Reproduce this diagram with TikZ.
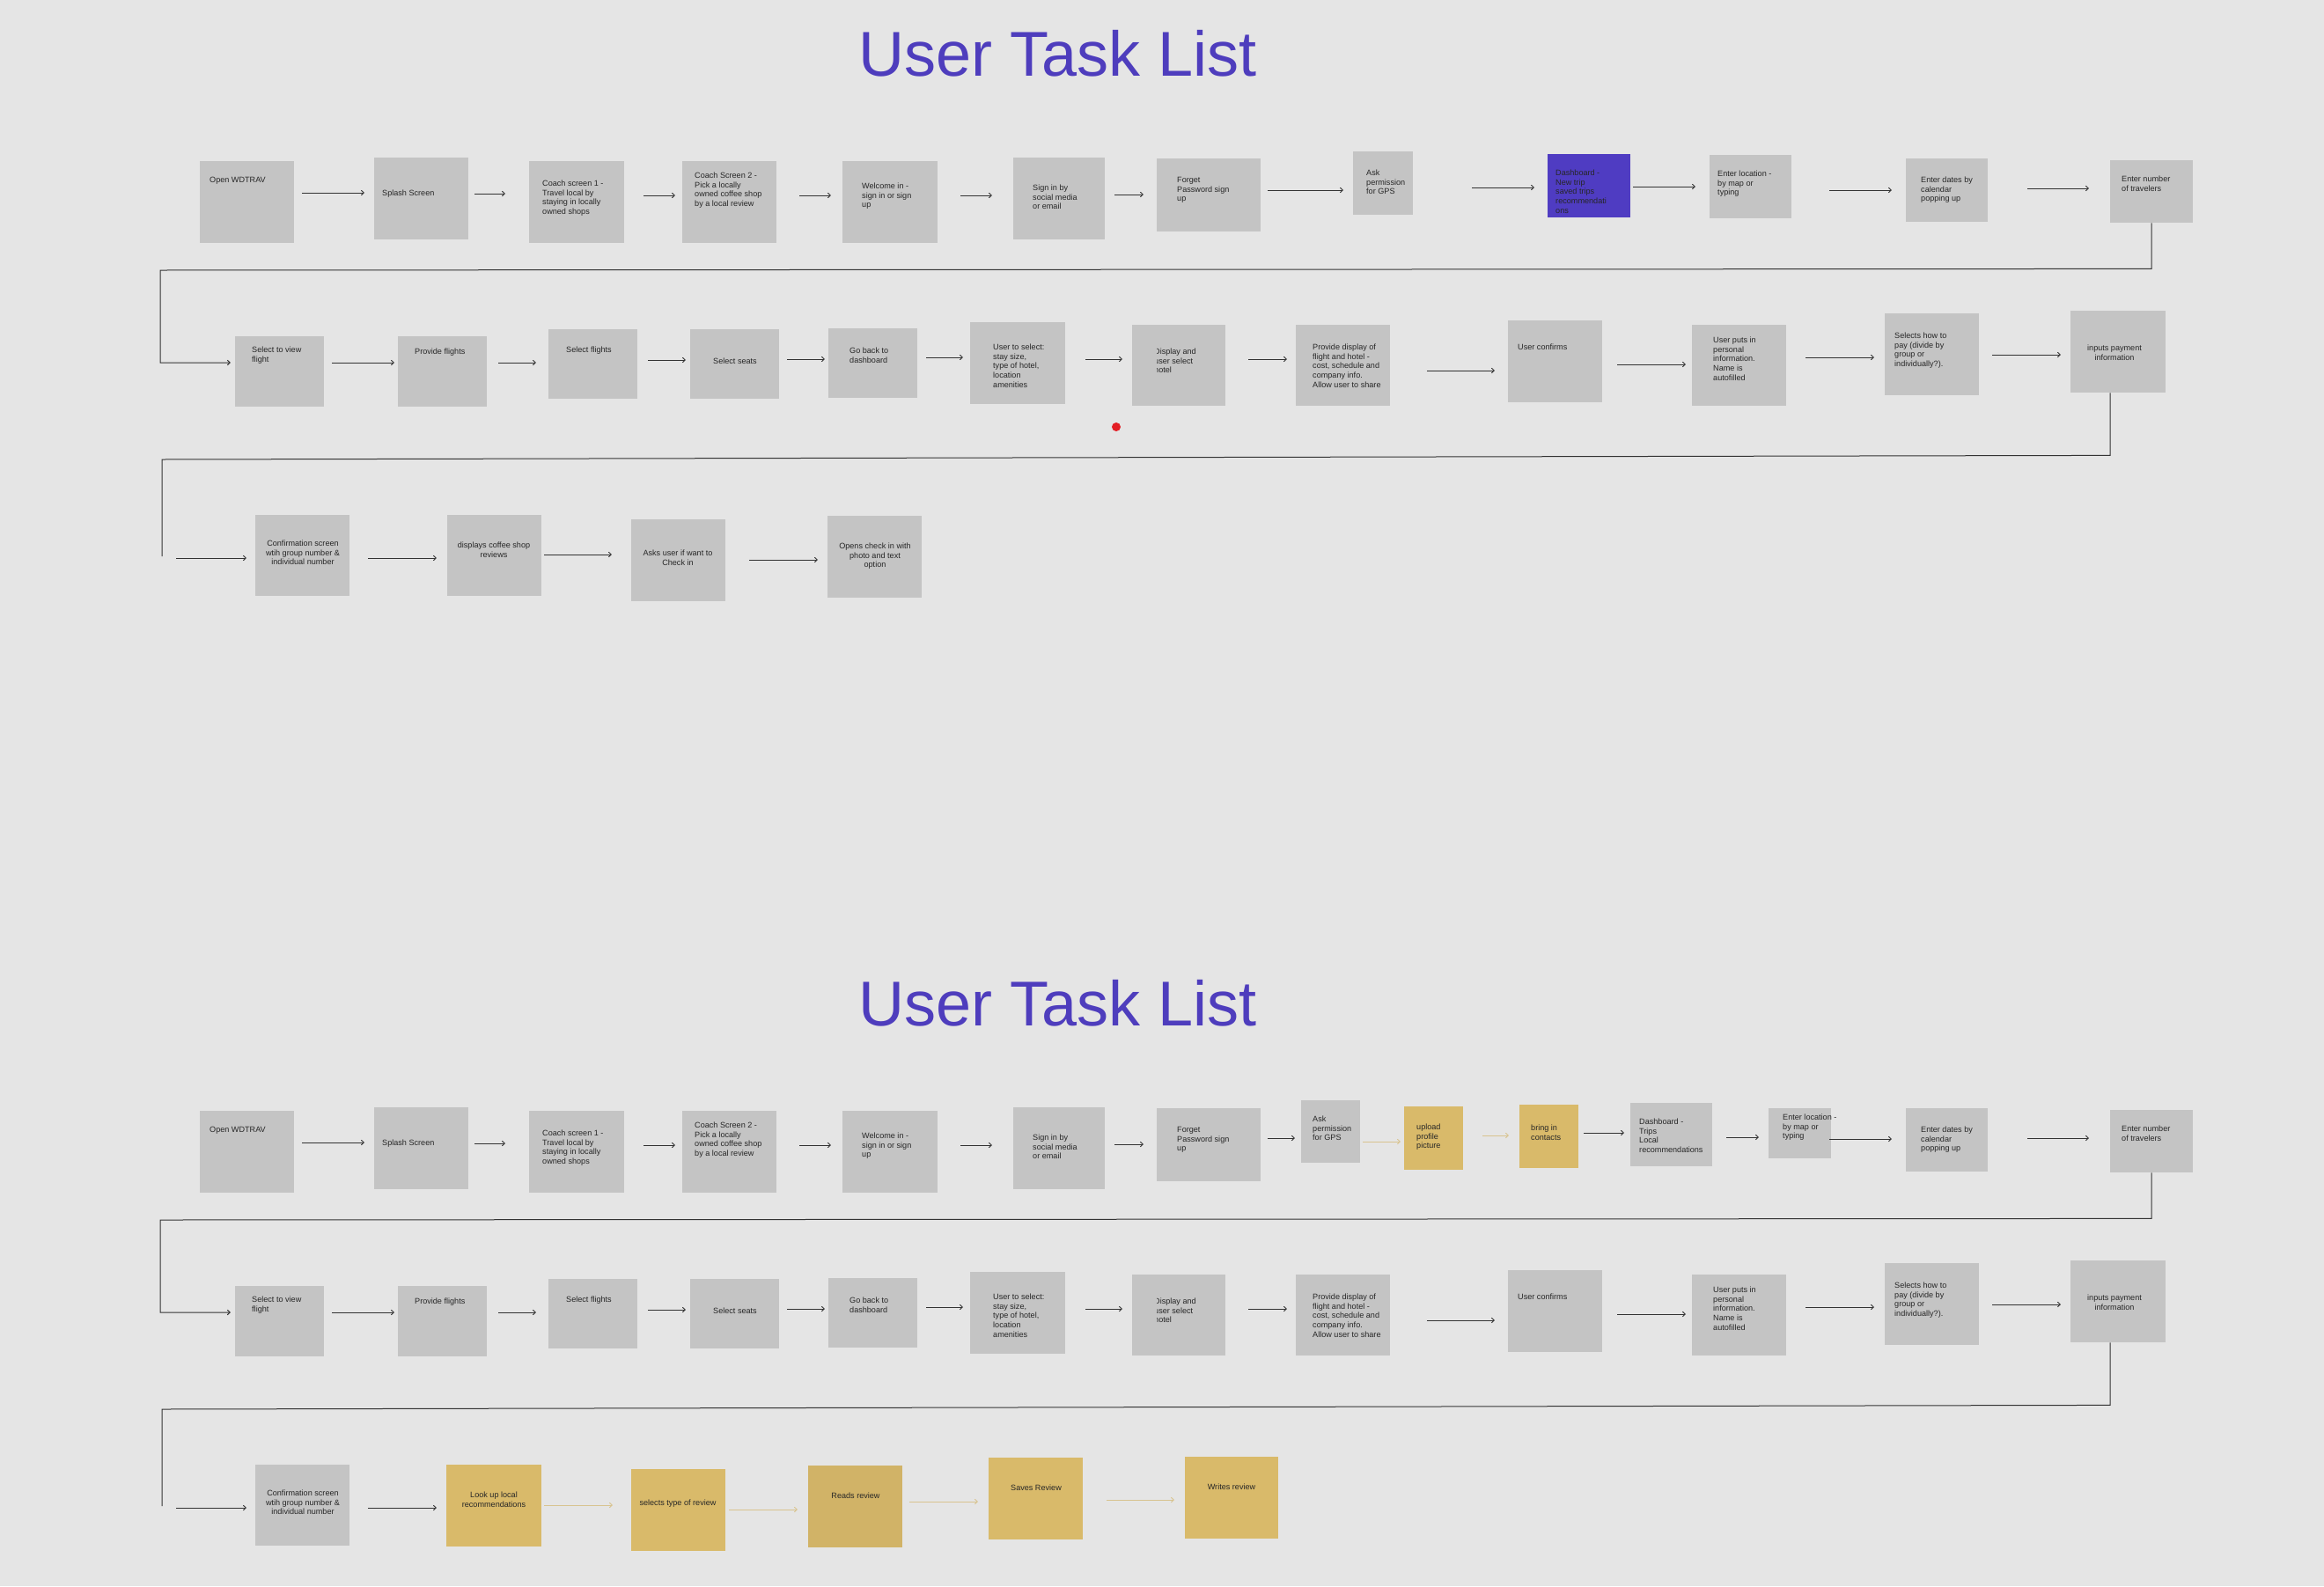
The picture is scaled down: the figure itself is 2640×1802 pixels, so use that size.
\documentclass[tikz,border=0pt]{standalone}
\usepackage{fontspec}
\setmainfont{Liberation Sans}
\usetikzlibrary{arrows.meta,calc}
\definecolor{bgc}{HTML}{E5E5E5}
\definecolor{boxc}{HTML}{C4C4C4}
\definecolor{purp}{HTML}{4F3CC2}
\definecolor{titlec}{HTML}{4E3DBD}
\definecolor{yel}{HTML}{D9BA6A}
\definecolor{yeld}{HTML}{D1B367}
\definecolor{yelarrow}{HTML}{D8C38F}
\definecolor{linec}{HTML}{333333}
\definecolor{dotc}{HTML}{E31E24}
\tikzset{
 box/.style={fill=boxc, draw=none, inner sep=0pt, anchor=north west},
 ybox/.style={box, fill=yel},
 ydbox/.style={box, fill=yeld},
 pbox/.style={box, fill=purp},
 txt/.style={inner sep=0pt, align=left, anchor=north west, font=\fontsize{9.1}{10.8}\selectfont, text=black!85},
 ctxt/.style={txt, align=center, anchor=north},
 arr/.style={draw=linec, line width=0.9pt, -{Straight Barb[length=3pt,width=5.5pt]}},
 yarr/.style={arr, draw=yelarrow},
 conn/.style={draw=linec, line width=1pt},
 ttl/.style={text=titlec, font=\fontsize{72}{80}\selectfont, inner sep=0pt, anchor=base},
}
\newcommand\bx[6]{\node[#1, minimum width={#5-#3}, minimum height={#6-#4}] (#2) at (#3,#4) {};}
\newcommand\tlab[4]{\node[txt] (#1) at (#2,#3-4.4) {\strut #4};}
\newcommand\clab[4]{\node[ctxt] (#1) at (#2,#3-4.4) {\strut #4};}
\newcommand\harr[6]{\draw[#1] ($(#2.east |- 0,#6)+(#4,0)$) -- ($(#3.west |- 0,#6)+(#5,0)$);}

\newcommand\sharednodes[1]{%
\node[ttl] (#1title) at (1202,86) {User Task List};
\bx{box}{#1T1}{227}{183}{334}{276}\tlab{#1L1}{238}{204}{Open WDTRAV}
\bx{box}{#1T2}{425}{179}{532}{272}\tlab{#1L2}{434}{219}{Splash Screen}
\bx{box}{#1T3}{601}{183}{709}{276}\tlab{#1L3}{616}{208}{Coach screen 1 -\\Travel local by\\staying in locally\\owned shops}
\bx{box}{#1T4}{775}{183}{882}{276}\tlab{#1L4}{789}{199}{Coach Screen 2 -\\Pick a locally\\owned coffee shop\\by a local review}
\bx{box}{#1T5}{957}{183}{1065}{276}\tlab{#1L5}{979}{211}{Welcome in -\\sign in or sign\\up}
\bx{box}{#1T6}{1151}{179}{1255}{272}\tlab{#1L6}{1173}{213}{Sign in by\\social media\\or email}
\bx{box}{#1T7}{1314}{180}{1432}{263}\tlab{#1L7}{1337}{204}{Forget\\Password sign\\up}
\bx{box}{#1T11}{2165}{180}{2258}{252}\tlab{#1L11}{2182}{204}{Enter dates by\\calendar\\popping up}
\bx{box}{#1T12}{2397}{182}{2491}{253}\tlab{#1L12}{2410}{203}{Enter number\\of travelers}
\bx{box}{#1R1}{267}{382}{368}{462}\tlab{#1M1}{286}{397}{Select to view\\flight}
\bx{box}{#1R2}{452}{382}{553}{462}\tlab{#1M2}{471}{399}{Provide flights}
\bx{box}{#1R3}{623}{374}{724}{453}\tlab{#1M3}{643}{397}{Select flights}
\bx{box}{#1R4}{784}{374}{885}{453}\tlab{#1M4}{810}{410}{Select seats}
\bx{box}{#1R5}{941}{373}{1042}{452}\tlab{#1M5}{965}{398}{Go back to\\dashboard}
\bx{box}{#1R6}{1102}{366}{1210}{459}\tlab{#1M6}{1128}{394}{User to select:\\stay size,\\type of hotel,\\location\\amenities}
\bx{box}{#1R7}{1286}{369}{1392}{461}
\begin{scope}\clip (1314,365) rectangle (1392,465);\tlab{#1M7}{1311}{399}{Display and\\user select\\hotel}\end{scope}
\bx{box}{#1R8}{1472}{369}{1579}{461}\tlab{#1M8}{1491}{394}{Provide display of\\flight and hotel -\\cost, schedule and\\company info.\\Allow user to share}
\bx{box}{#1R9}{1713}{364}{1820}{457}\tlab{#1M9}{1724}{394}{User confirms}
\bx{box}{#1R10}{1922}{369}{2029}{461}\tlab{#1M10}{1946}{386}{User puts in\\personal\\information.\\Name is\\autofilled}
\bx{box}{#1R11}{2141}{356}{2248}{449}\tlab{#1M11}{2152}{381}{Selects how to\\pay (divide by\\group or\\individually?).}
\bx{box}{#1R12}{2352}{353}{2460}{446}\clab{#1M12}{2402}{395}{inputs payment\\information}
\bx{box}{#1C1}{290}{585}{397}{677}\clab{#1N1}{344}{617}{Confirmation screen\\wtih group number \&\\individual number}
}

\newcommand\sharedarrows[1]{%
\harr{arr}{#1T1}{#1T2}{9}{-11}{219}
\harr{arr}{#1T2}{#1T3}{7}{-27}{220}
\harr{arr}{#1T3}{#1T4}{22}{-8}{222}
\harr{arr}{#1T4}{#1T5}{26}{-13}{222}
\harr{arr}{#1T5}{#1T6}{26}{-24}{222}
\harr{arr}{#1T6}{#1T7}{11}{-15}{221}
\harr{arr}{#1T11}{#1T12}{45}{-24}{214}
\draw[arr, line width=1pt] (#1T12.south) -- ++(0,52) -- (182,307) |- ($(#1R1.west |- 0,412)+(-5,0)$);
\harr{arr}{#1R1}{#1R2}{9}{-4}{412}
\harr{arr}{#1R2}{#1R3}{13}{-14}{412}
\harr{arr}{#1R3}{#1R4}{12}{-5}{409}
\harr{arr}{#1R4}{#1R5}{9}{-4}{408}
\harr{arr}{#1R5}{#1R6}{10}{-8}{406}
\harr{arr}{#1R6}{#1R7}{23}{-11}{408}
\harr{arr}{#1R7}{#1R8}{26}{-10}{408}
\harr{arr}{#1R8}{#1R9}{42}{-15}{421}
\harr{arr}{#1R9}{#1R10}{17}{-7}{414}
\harr{arr}{#1R10}{#1R11}{22}{-12}{406}
\harr{arr}{#1R11}{#1R12}{15}{-11}{403}
\draw[conn] ($(#1R12.south)+(-9,0)$) -- ++(0,71) -- (184,522) -- (184,632);
\coordinate (#1S3) at (200,634);
\draw[arr] (#1S3) -- ($(#1C1.west |- 0,634)+(-10,0)$);
}

\begin{document}
\begin{tikzpicture}[x=1pt,y=-1pt]
\fill[bgc] (0,0) rectangle (2640,1802);
\useasboundingbox (0,0) rectangle (2640,1802);

% ---------- top list ----------
\sharednodes{t}
\bx{box}{tT8}{1537}{172}{1605}{244}\tlab{tL8}{1552}{196}{Ask\\permission\\for GPS}
\bx{pbox}{tT9}{1758}{175}{1852}{247}\tlab{tL9}{1767}{196}{Dashboard -\\New trip\\saved trips\\recommendati\\ons}
\bx{box}{tT10}{1942}{176}{2035}{248}\tlab{tL10}{1951}{197}{Enter location -\\by map or\\typing}
\bx{box}{tC2}{508}{585}{615}{677}\clab{tN2}{561}{619}{displays coffee shop\\reviews}
\bx{box}{tC3}{717}{590}{824}{683}\clab{tN3}{770}{628}{Asks user if want to\\Check in}
\bx{box}{tC4}{940}{586}{1047}{679}\clab{tN4}{994}{620}{Opens check in with\\photo and text\\option}
\node[circle, fill=dotc, minimum size=10pt, inner sep=0pt] (dot) at (1268,485) {};
\sharedarrows{t}
\harr{arr}{tT7}{tT8}{8}{-11}{216}
\harr{arr}{tT8}{tT9}{67}{-15}{213}
\harr{arr}{tT9}{tT10}{3}{-16}{212}
\harr{arr}{tT10}{tT11}{43}{-16}{216}
\harr{arr}{tC1}{tC2}{21}{-12}{634}
\harr{arr}{tC2}{tC3}{3}{-22}{630}
\harr{arr}{tC3}{tC4}{27}{-11}{636}

% ---------- bottom list ----------
\begin{scope}[yshift=-1079pt]
\sharednodes{b}
\bx{box}{bT8}{1478}{171}{1545}{242}\tlab{bL8}{1491}{192}{Ask\\permission\\for GPS}
\bx{ybox}{bU1}{1595}{178}{1662}{250}\tlab{bLU1}{1609}{201}{upload\\profile\\picture}
\bx{ybox}{bU2}{1726}{176}{1793}{248}\tlab{bLU2}{1739}{202}{bring in\\contacts}
\bx{box}{bT9}{1852}{174}{1945}{246}\tlab{bL9}{1862}{195}{Dashboard -\\Trips\\Local\\recommendations}
\bx{box}{bT10}{2009}{180}{2080}{237}\tlab{bL10}{2025}{190}{Enter location -\\by map or\\typing}
\bx{ybox}{bY1}{507}{585}{615}{678}\clab{bK1}{561}{619}{Look up local\\recommendations}
\bx{ybox}{bY2}{717}{590}{824}{683}\clab{bK2}{770}{628}{selects type of review}
\bx{ydbox}{bY3}{918}{586}{1025}{679}\clab{bK3}{972}{620}{Reads review}
\bx{ybox}{bY4}{1123}{577}{1230}{670}\clab{bK4}{1177}{611}{Saves Review}
\bx{ybox}{bY5}{1346}{576}{1452}{669}\clab{bK5}{1399}{610}{Writes review}
\sharedarrows{b}
\harr{arr}{bT7}{bT8}{8}{-7}{214}
\harr{yarr}{bT8}{bU1}{3}{-4}{218}
\harr{yarr}{bU1}{bU2}{22}{-12}{211}
\harr{arr}{bU2}{bT9}{6}{-7}{208}
\harr{arr}{bT9}{bT10}{16}{-11}{213}
\harr{arr}{bT10}{bT11}{-2}{-16}{215}
\harr{arr}{bC1}{bY1}{21}{-11}{634}
\harr{yarr}{bY1}{bY2}{3}{-21}{631}
\harr{yarr}{bY2}{bY3}{4}{-12}{636}
\harr{yarr}{bY3}{bY4}{8}{-12}{627}
\harr{yarr}{bY4}{bY5}{27}{-12}{625}
\end{scope}
\end{tikzpicture}
\end{document}
